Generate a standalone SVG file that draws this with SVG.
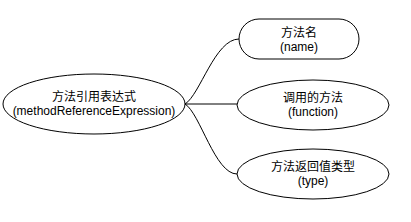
<svg xmlns="http://www.w3.org/2000/svg" width="411" height="222" viewBox="0 0 411 222">
<style>
.n{fill:#fff;stroke:#000;stroke-width:1}
.t{font-family:"Liberation Sans","Noto Sans CJK SC",sans-serif;font-size:12px;fill:#000;text-anchor:middle}
.e{fill:none;stroke:#000;stroke-width:1}
</style>
<rect width="411" height="222" fill="#fff"/>
<g id="connectors">
<path class="e" d="M185,104 C200,95 215,39 239,39"/>
<path class="e" d="M185,104 L237,104"/>
<path class="e" d="M185,104 C200,113 215,174 237,174"/>
</g>
<g id="root">
<ellipse class="n" cx="94" cy="104" rx="91" ry="30"/>
<text class="t" x="94" y="101">方法引用表达式</text>
<text class="t" x="94" y="115">(methodReferenceExpression)</text>
</g>
<g id="name">
<rect class="n" x="239" y="19" width="120" height="40" rx="20" ry="20"/>
<text class="t" x="299" y="36.5">方法名</text>
<text class="t" x="299" y="50.5">(name)</text>
</g>
<g id="function">
<ellipse class="n" cx="313" cy="105" rx="76" ry="25"/>
<text class="t" x="313" y="102">调用的方法</text>
<text class="t" x="313" y="116">(function)</text>
</g>
<g id="type">
<ellipse class="n" cx="313" cy="174" rx="76" ry="25"/>
<text class="t" x="313" y="171">方法返回值类型</text>
<text class="t" x="313" y="185">(type)</text>
</g>
</svg>
